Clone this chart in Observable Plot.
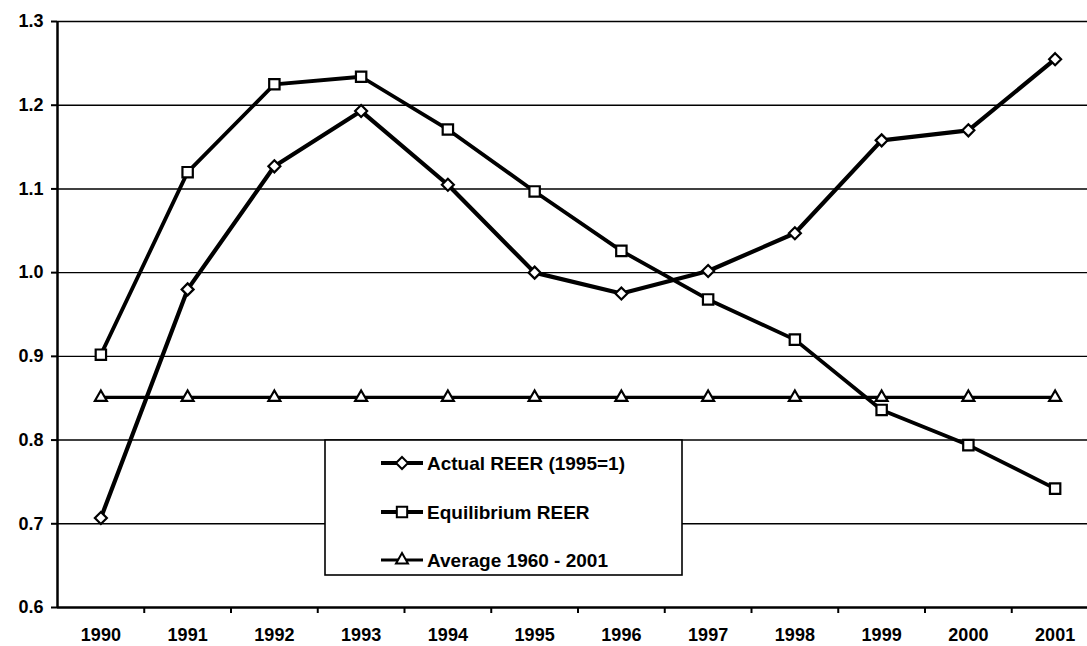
<!DOCTYPE html>
<html>
<head>
<meta charset="utf-8">
<script src="https://cdn.jsdelivr.net/npm/d3@7"></script>
<script src="https://cdn.jsdelivr.net/npm/@observablehq/plot@0.6"></script>
<style>
  html, body { margin: 0; padding: 0; background: #fff; }
  #chart svg { display: block; font-family: "Liberation Sans", Arial, sans-serif; }
</style>
</head>
<body>
<div id="chart"></div>
<script>
const years = [1990, 1991, 1992, 1993, 1994, 1995, 1996, 1997, 1998, 1999, 2000, 2001];
const actual = [0.707, 0.980, 1.127, 1.193, 1.105, 1.000, 0.975, 1.002, 1.047, 1.158, 1.170, 1.255];
const equilibrium = [0.902, 1.120, 1.225, 1.234, 1.171, 1.097, 1.026, 0.968, 0.920, 0.836, 0.794, 0.742];
const average = [0.851, 0.851, 0.851, 0.851, 0.851, 0.851, 0.851, 0.851, 0.851, 0.851, 0.851, 0.851];
const yTicks = [0.6, 0.7, 0.8, 0.9, 1.0, 1.1, 1.2, 1.3];
const seriesNames = ["Actual REER (1995=1)", "Equilibrium REER", "Average 1960 - 2001"];
const seriesSymbols = ["diamond2", "square2", "triangle2"];

const rows = (vals) => years.map((y, i) => ({year: y, value: vals[i]}));
const dA = rows(actual), dE = rows(equilibrium), dV = rows(average);
const boundaries = years.slice(0, -1).map(y => y + 0.5);

const plot = Plot.plot({
  width: 1087,
  height: 646,
  marginLeft: 57,
  marginRight: 0,
  marginTop: 21,
  marginBottom: 39,
  style: {fontFamily: "Liberation Sans, Arial, sans-serif", fontWeight: "bold", fontSize: "18px", color: "#000", background: "#fff"},
  x: {domain: [years[0] - 0.5, years[years.length - 1] + 0.5], range: [57, 1098]},
  y: {domain: [0.6, 1.3]},
  marks: [
    Plot.ruleY(yTicks.slice(1), {stroke: "#000", strokeWidth: 1.4}),
    Plot.axisY({ticks: yTicks, tickFormat: d3.format(".1f"), tickSize: 6, tickPadding: 8, strokeWidth: 2, fontSize: 18, fontWeight: "bold", label: null}),
    Plot.axisX({ticks: boundaries, tickFormat: () => "", tickSize: 6, strokeWidth: 2, label: null}),
    Plot.axisX({ticks: years, tickFormat: d => String(d), tickSize: 0, tickPadding: 21, fontSize: 18, fontWeight: "bold", label: null}),
    Plot.ruleX([years[0] - 0.5], {stroke: "#000", strokeWidth: 2.5}),
    Plot.ruleY([0.6], {stroke: "#000", strokeWidth: 2.5}),
    Plot.line(dV, {x: "year", y: "value", stroke: "#000", strokeWidth: 3.2}),
    Plot.line(dE, {x: "year", y: "value", stroke: "#000", strokeWidth: 3.8, strokeLinejoin: "round"}),
    Plot.line(dA, {x: "year", y: "value", stroke: "#000", strokeWidth: 4.2, strokeLinejoin: "round"}),
    Plot.dot(dV, {x: "year", y: "value", symbol: "triangle2", r: 5.7, fill: "#fff", stroke: "#000", strokeWidth: 2.2}),
    Plot.dot(dE, {x: "year", y: "value", symbol: "square2", r: 6.6, fill: "#fff", stroke: "#000", strokeWidth: 2.2}),
    Plot.dot(dA, {x: "year", y: "value", symbol: "diamond2", r: 5.4, fill: "#fff", stroke: "#000", strokeWidth: 2.2})
  ]
});

document.getElementById("chart").appendChild(plot);

// Legend box inside the plot area
const svg = d3.select(plot);
const lg = svg.append("g").attr("text-anchor", "start");
lg.append("rect").attr("x", 325).attr("y", 440).attr("width", 357).attr("height", 135)
  .attr("fill", "#fff").attr("stroke", "#000").attr("stroke-width", 1.6);
const symbolMap = {diamond2: d3.symbolDiamond2, square2: d3.symbolSquare2, triangle2: d3.symbolTriangle2};
const rowY = [463, 512, 560];
const sizes = [Math.PI * 5.4 * 5.4, Math.PI * 6.6 * 6.6, Math.PI * 5.7 * 5.7];
seriesNames.forEach((name, i) => {
  const g = lg.append("g").attr("transform", `translate(0,${rowY[i]})`);
  g.append("line").attr("x1", 381).attr("x2", 423).attr("y1", 0).attr("y2", 0)
    .attr("stroke", "#000").attr("stroke-width", i === 2 ? 3 : 3.8);
  g.append("path").attr("transform", "translate(402,0)")
    .attr("d", d3.symbol(symbolMap[seriesSymbols[i]], sizes[i])())
    .attr("fill", "#fff").attr("stroke", "#000").attr("stroke-width", 2);
  g.append("text").attr("x", 427).attr("y", 0).attr("dy", "0.36em")
    .attr("text-anchor", "start")
    .attr("font-size", 19).attr("font-weight", "bold").attr("fill", "#000")
    .attr("font-family", "Liberation Sans, Arial, sans-serif")
    .text(name);
});
</script>
</body>
</html>
